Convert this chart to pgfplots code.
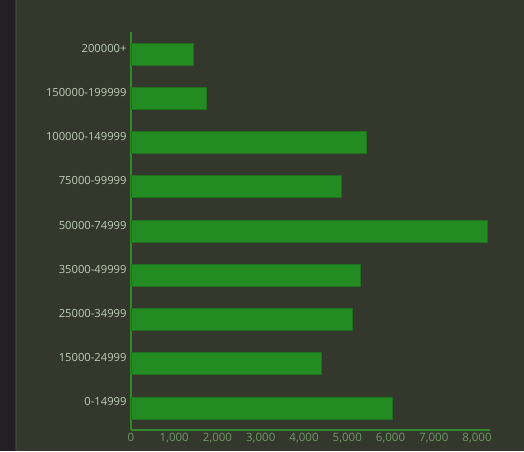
\documentclass[border=0pt]{standalone}
\usepackage{pgfplots}
\pgfplotsset{compat=1.18}
\usepackage{fontspec}
\setmainfont{Open Sans}
\definecolor{bgmain}{RGB}{52,55,44}
\definecolor{bgside}{RGB}{35,31,37}
\definecolor{barfill}{RGB}{34,139,34}
\definecolor{baredge}{RGB}{30,112,30}
\definecolor{axisline}{RGB}{45,140,40}
\definecolor{ylab}{RGB}{190,206,184}
\definecolor{xlab}{RGB}{112,152,104}
\begin{document}
\begin{tikzpicture}
\fill[bgmain] (0,0) rectangle (524pt,451pt);
\fill[bgside] (0,0) rectangle (15pt,451pt);
\draw[bgmain!94!white, line width=0.4pt] (16pt,0) -- (16pt,451pt);
\begin{axis}[
    at={(131pt,21pt)}, anchor=south west,
    scale only axis,
    width=359pt, height=398pt,
    xbar,
    bar width=22pt,
    xmin=0, xmax=8300,
    ymin=-0.5, ymax=8.5,
    axis x line=bottom, axis y line=left,
    axis line style={draw=axisline, line width=1.2pt, -},
    xtick={0,1000,...,8000},
    ytick={0,...,8},
    yticklabels={0-14999,15000-24999,25000-34999,35000-49999,50000-74999,75000-99999,100000-149999,150000-199999,200000+},
    major tick length=0pt,
    scaled x ticks=false,
    /pgf/number format/assume math mode=true,
    /pgf/number format/.cd, 1000 sep={,}, /pgfplots/.cd,
    xticklabel style={font=\fontsize{11.5}{13}\selectfont, text=xlab, yshift=0pt},
    yticklabel style={font=\fontsize{11.2}{13}\selectfont, text=ylab, xshift=-1pt, yshift=6pt},
]
\addplot[fill=barfill, draw=baredge, line width=0.6pt] coordinates {
    (6030,0) (4410,1) (5120,2) (5290,3) (8240,4) (4870,5) (5430,6) (1750,7) (1430,8)
};
\end{axis}
\pgfresetboundingbox
\useasboundingbox (0,0) rectangle (524pt,451pt);
\end{tikzpicture}
\end{document}
